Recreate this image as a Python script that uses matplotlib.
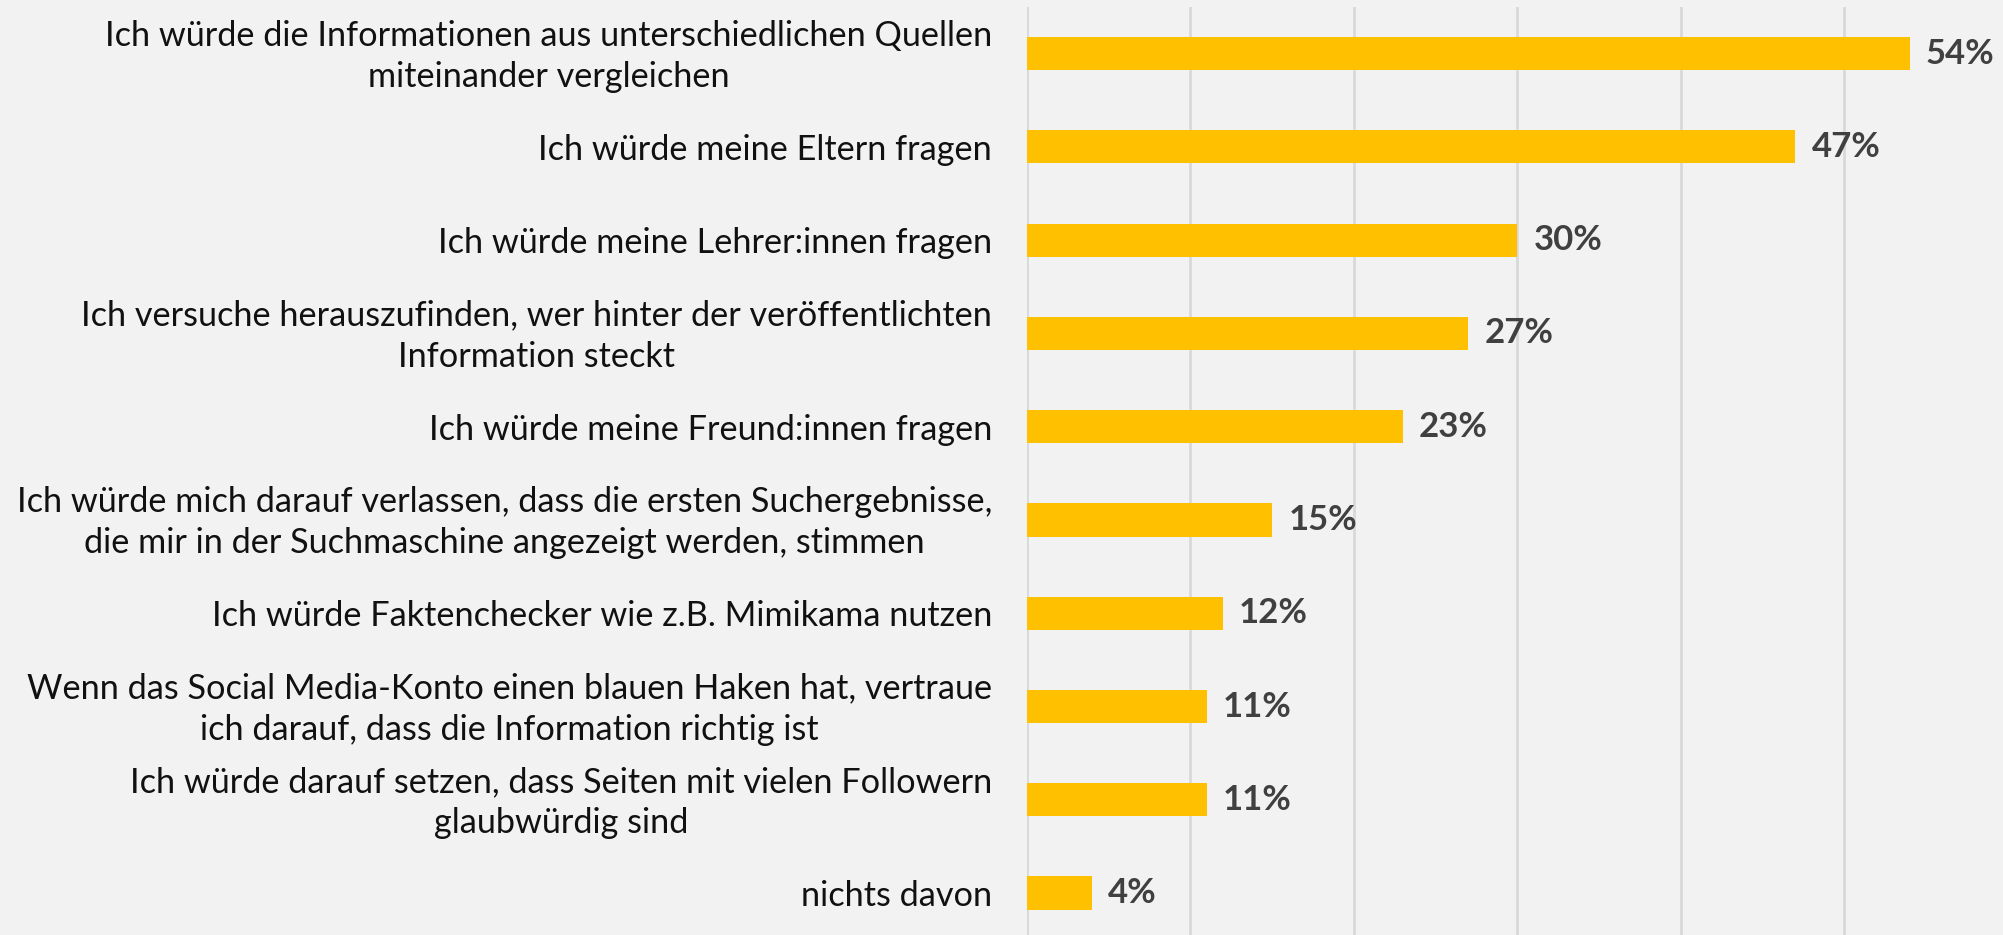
import matplotlib.pyplot as plt
from matplotlib.transforms import ScaledTranslation

# === DATA ===
labels = [
    "Ich würde die Informationen aus unterschiedlichen Quellen\nmiteinander vergleichen",
    "Ich würde meine Eltern fragen",
    "Ich würde meine Lehrer:innen fragen",
    "Ich versuche herauszufinden, wer hinter der veröffentlichten\nInformation steckt",
    "Ich würde meine Freund:innen fragen",
    "Ich würde mich darauf verlassen, dass die ersten Suchergebnisse,\ndie mir in der Suchmaschine angezeigt werden, stimmen",
    "Ich würde Faktenchecker wie z.B. Mimikama nutzen",
    "Wenn das Social Media-Konto einen blauen Haken hat, vertraue\nich darauf, dass die Information richtig ist",
    "Ich würde darauf setzen, dass Seiten mit vielen Followern\nglaubwürdig sind",
    "nichts davon",
]
values = [54, 47, 30, 27, 23, 15, 12, 11, 11, 4]

# === STYLE ===
BG = "#F2F2F2"
BAR_COLOR = "#FFC000"
GRID_COLOR = "#D9D9D9"
plt.rcParams["font.family"] = ["Lato", "DejaVu Sans"]

fig = plt.figure(figsize=(20.03, 9.35), dpi=100, facecolor=BG)
ax = fig.add_axes([0.5127, -0.005, 0.4898, 0.9975], facecolor=BG)

pos = list(range(len(values)))
ax.barh(pos, values, height=0.355, color=BAR_COLOR, zorder=3)

for p, v in zip(pos, values):
    ax.annotate(f"{v}%", (v, p), xytext=(16, 0), textcoords="offset pixels",
                va="center", ha="left", fontsize=25, fontweight="bold",
                color="#404040")

ax.set_xlim(0, 60)
ax.set_ylim(len(values) - 0.5, -0.5)
ax.set_xticks(range(0, 60, 10))
ax.xaxis.grid(True, color=GRID_COLOR, linewidth=2, zorder=0)
ax.tick_params(axis="x", length=0, labelbottom=False)
ax.tick_params(axis="y", length=0, pad=25)
ax.set_yticks(pos)
ax.set_yticklabels(labels, fontsize=24.7, color="#111111", ha="right",
                   multialignment="center", linespacing=1.35)
# nudge two-line labels up a bit so they sit centred on the bar
for lbl in ax.get_yticklabels():
    if "\n" in lbl.get_text():
        lbl.set_transform(lbl.get_transform() +
                          ScaledTranslation(0, 0.05, fig.dpi_scale_trans))
for s in ax.spines.values():
    s.set_visible(False)

plt.savefig("out.png", dpi=100, facecolor=BG)
